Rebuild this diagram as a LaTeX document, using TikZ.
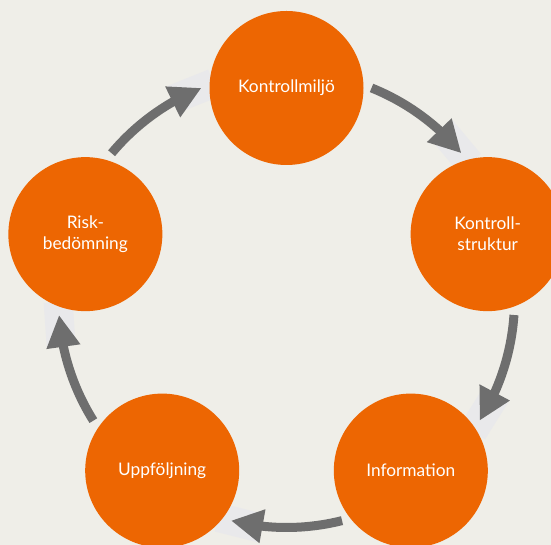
\documentclass[tikz,border=0pt]{standalone}
\usepackage{fontspec}
\setmainfont{Lato}
\usetikzlibrary{arrows.meta,bending,calc}
\definecolor{bgc}{RGB}{239,238,232}
\definecolor{orangec}{RGB}{237,102,2}
\definecolor{arrowc}{RGB}{110,110,110}
\definecolor{haloc}{RGB}{233,233,235}
\tikzset{
  stage/.style={circle, fill=orangec, minimum size=154pt, inner sep=0pt,
    text=white, align=center, font=\fontsize{17.3}{21}\selectfont},
  cyclearrow/.style={draw=arrowc, line width=9pt,
    -{Triangle[length=32pt,width=32pt,flex]}},
  halo/.style={fill=haloc}
}
\begin{document}
\begin{tikzpicture}[x=1pt,y=1pt]
\fill[bgc] (0,0) rectangle (551,545);
\useasboundingbox (0,0) rectangle (551,545);
\coordinate (C) at (286.5,245.5);
% halos behind arrow tips
\foreach \m in {54,-18,-90,-162,126}{
  \begin{scope}[shift={($(C)+({\m-14.1}:228)$)}, rotate={\m-14.1-90}]
    \fill[halo] (-31,-14.5) rectangle (13,14.5);
  \end{scope}
}
% arrows
\foreach \m in {54,-18,-90,-162,126}{
  \draw[cyclearrow] ($(C)+({\m+14.1}:228)$) arc[start angle={\m+14.1}, end angle={\m-14.1}, radius=228];
}
% stages
\node[stage] (s1) at ($(C)+(90:211.5)$) {Kontrollmiljö};
\node[stage] (s2) at ($(C)+(18:211.5)$) {Kontroll-\\struktur};
\node[stage] (s3) at ($(C)+(-54:211.5)$) {Information};
\node[stage] (s4) at ($(C)+(-126:211.5)$) {Uppföljning};
\node[stage] (s5) at ($(C)+(162:211.5)$) {Risk-\\bedömning};
\end{tikzpicture}
\end{document}
